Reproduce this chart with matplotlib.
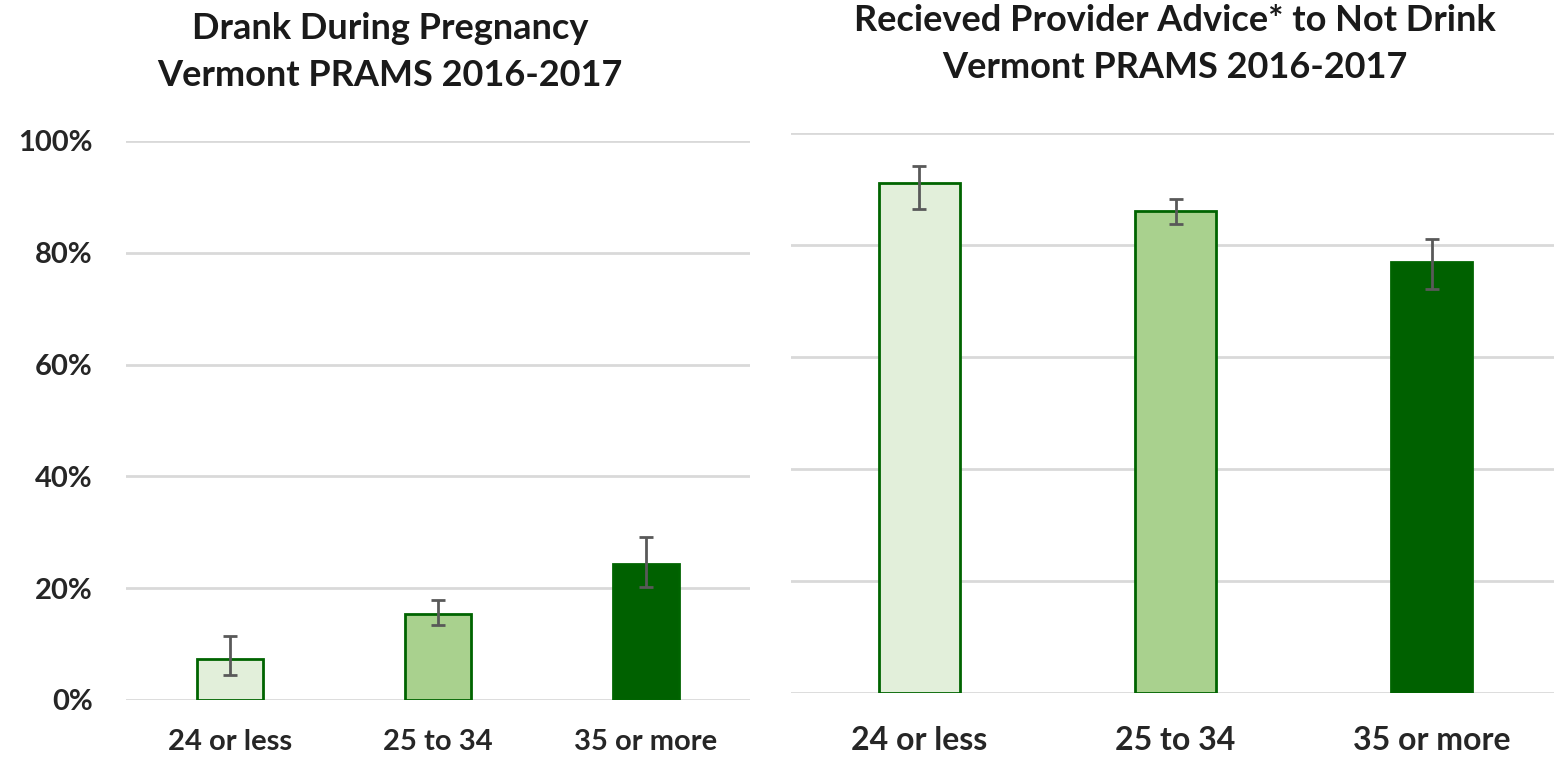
import matplotlib.pyplot as plt
import numpy as np

plt.rcParams['font.family'] = ['Lato', 'DejaVu Sans']

ages = ["24 or less", "25 to 34", "35 or more"]

drank = [7.4, 15.4, 24.3]
drank_low = [4.5, 13.4, 20.2]
drank_high = [11.4, 17.8, 29.2]

advice = [91.0, 86.1, 77.0]
advice_low = [86.4, 83.8, 72.1]
advice_high = [94.1, 88.2, 81.0]

fills = ["#E2EFDA", "#A9D18E", "#006100"]
edge = "#006400"
grid = "#D9D9D9"
errc = "#595959"

fig = plt.figure(figsize=(15.54, 7.61), dpi=100)


def panel(ax, vals, lo, hi, width, tick_pad, xfs, show_y):
    x = np.arange(len(ages))
    yerr = [np.array(vals) - np.array(lo), np.array(hi) - np.array(vals)]
    ax.bar(x, vals, width=width, color=fills, edgecolor=edge, linewidth=2, zorder=3)
    ax.errorbar(x, vals, yerr=yerr, fmt="none", ecolor=errc, elinewidth=2,
                capsize=5, capthick=2, zorder=4)
    ax.set_xlim(-0.5, 2.5)
    ax.set_ylim(0, 100)
    ax.set_yticks(np.arange(0, 101, 20))
    ax.yaxis.grid(True, color=grid, linewidth=2, zorder=0)
    ax.set_axisbelow(True)
    for s in ax.spines.values():
        s.set_visible(False)
    ax.set_xticks(x)
    ax.set_xticklabels(ages, fontsize=xfs, fontweight="bold", color="#262626")
    ax.tick_params(axis="x", length=0, pad=tick_pad)
    ax.tick_params(axis="y", length=0, pad=24)
    if show_y:
        ax.set_yticklabels([f"{v}%" for v in range(0, 101, 20)], fontsize=21,
                           fontweight="bold", color="#262626")
    else:
        ax.set_yticklabels([])


ax1 = fig.add_axes([126 / 1554, 1 - 700 / 761, 624 / 1554, 559 / 761])
panel(ax1, drank, drank_low, drank_high, 0.32, 21, 21, True)

ax2 = fig.add_axes([791 / 1554, 1 - 693 / 761, 769 / 1554, 560 / 761])
panel(ax2, advice, advice_low, advice_high, 0.316, 24, 23, False)

fig.text(390 / 1554, 1 - 52 / 761, "Drank During Pregnancy\nVermont PRAMS 2016-2017",
         ha="center", va="center", fontsize=26, fontweight="bold",
         linespacing=1.5, color="#1a1a1a")
fig.text(1175 / 1554, 1 - 44 / 761,
         "Recieved Provider Advice* to Not Drink\nVermont PRAMS 2016-2017",
         ha="center", va="center", fontsize=26, fontweight="bold",
         linespacing=1.5, color="#1a1a1a")

fig.savefig("out.png", dpi=100)
